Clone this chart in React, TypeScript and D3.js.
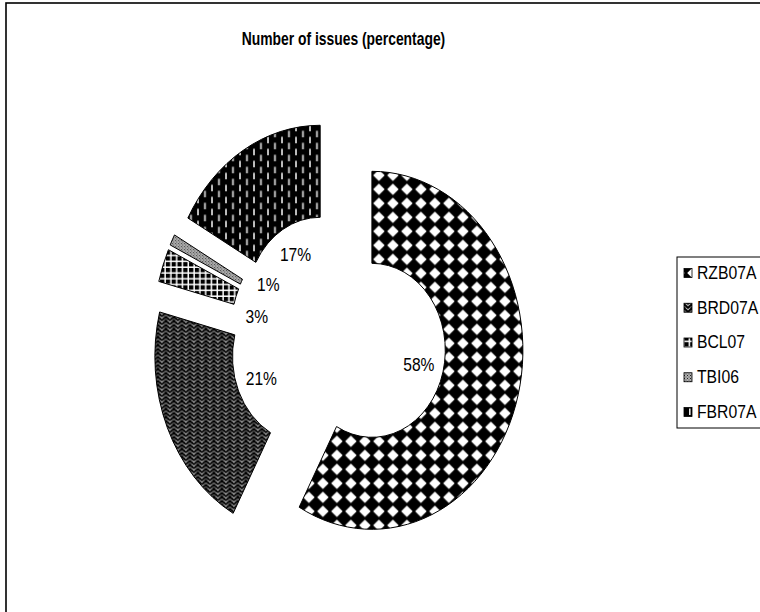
import React from "react";
import * as d3 from "d3";

const categories = ["RZB07A", "BRD07A", "BCL07", "TBI06", "FBR07A"];
const values = [58, 21, 3, 1, 17];
const title = "Number of issues (percentage)";

const W = 760;
const H = 612;
const CX = 338;
const CY = 340;
const SX = 151 / 179; // horizontal squeeze of the picture
const R_OUT = 179;
const R_IN = 87;
const EXPLODE = 41.5;
const LABEL_R = 99;
const MIN_SEP = (20 * Math.PI) / 180;
const FONT = "'Liberation Sans', Arial, sans-serif";

function Patterns({ suffix, comp }: { suffix: string; comp: number }) {
  const pt = comp !== 1 ? `scale(${comp},1)` : undefined;
  return (
    <>
      <pattern id={`p0${suffix}`} patternUnits="userSpaceOnUse" width={14} height={14} patternTransform={pt}>
        <rect width={14} height={14} fill="#000" />
        <polygon points="7,1.2 12.8,7 7,12.8 1.2,7" fill="#fff" />
      </pattern>
      <pattern id={`p1${suffix}`} patternUnits="userSpaceOnUse" width={8} height={8} patternTransform={pt}>
        <rect width={8} height={8} fill="#5e5e5e" />
        <path d="M0,4 L4,0 L8,4 M0,8 L4,4 L8,8" stroke="#000" strokeWidth={1.6} fill="none" />
        <path d="M0,6 L2,4 M6,4 L8,6 M2,0 L0,2 M6,0 L8,2" stroke="#d8d8d8" strokeWidth={0.9} strokeDasharray="1 1" fill="none" />
      </pattern>
      <pattern id={`p2${suffix}`} patternUnits="userSpaceOnUse" width={5.8} height={5.8} patternTransform={pt}>
        <rect width={5.8} height={5.8} fill="#fff" />
        <rect width={4.3} height={4.3} fill="#000" />
      </pattern>
      <pattern id={`p3${suffix}`} patternUnits="userSpaceOnUse" width={3} height={3} patternTransform={pt}>
        <rect width={3} height={3} fill="#b0b0b0" />
        <rect x={0} y={0} width={1} height={1} fill="#222" />
        <rect x={1.5} y={1.5} width={1} height={1} fill="#444" />
      </pattern>
      <pattern id={`p4${suffix}`} patternUnits="userSpaceOnUse" width={14} height={12} patternTransform={pt}>
        <rect width={14} height={12} fill="#000" />
        <rect x={3} y={0.5} width={1.6} height={6.5} fill="#e8e8e8" />
        <rect x={10} y={6.5} width={1.6} height={5.5} fill="#e8e8e8" />
        <rect x={10} y={0} width={1.6} height={1} fill="#e8e8e8" />
      </pattern>
    </>
  );
}

// spread label angles so that close small slices do not collide
function spreadAngles(mids: number[]): number[] {
  const out = mids.slice();
  for (let iter = 0; iter < 50; iter++) {
    let moved = false;
    for (let i = 0; i < out.length - 1; i++) {
      const gap = out[i + 1] - out[i];
      if (gap < MIN_SEP) {
        const push = (MIN_SEP - gap) / 2;
        out[i] -= push;
        out[i + 1] += push;
        moved = true;
      }
    }
    if (!moved) break;
  }
  return out;
}

export default function App() {
  const pie = d3.pie<number>().sort(null).value((d) => d).startAngle(0).endAngle(2 * Math.PI);
  const arcs = pie(values);
  const arc = d3.arc<d3.PieArcDatum<number>>().innerRadius(R_IN).outerRadius(R_OUT);
  const mids = arcs.map((a) => (a.startAngle + a.endAngle) / 2);
  const labelAngles = spreadAngles(mids);

  const legendX = 677;
  const legendTop = 257;
  const legendStep = 34.75;
  const legendFirst = 273;

  return (
    <svg
      width={W}
      height={H}
      style={{ position: "fixed", left: 0, top: 0, background: "#fff" }}
      fontFamily={FONT}
    >
      <defs>
        <Patterns suffix="g" comp={1 / SX} />
        <Patterns suffix="l" comp={1} />
      </defs>
      <rect x={0} y={0} width={W} height={H} fill="#fff" />
      <rect x={6} y={3} width={900} height={800} fill="none" stroke="#000" strokeWidth={1.6} />

      <text
        transform={`translate(343.5,45) scale(0.75,1)`}
        textAnchor="middle"
        fontSize={18.5}
        fontWeight="bold"
        fill="#000"
      >
        {title}
      </text>

      <g transform={`translate(${CX},${CY}) scale(${SX},1)`}>
        {arcs.map((a, i) => {
          const mid = mids[i];
          const dx = EXPLODE * Math.sin(mid);
          const dy = -EXPLODE * Math.cos(mid);
          return (
            <path
              key={categories[i]}
              d={arc(a) || ""}
              transform={`translate(${dx},${dy})`}
              fill={`url(#p${i}g)`}
              stroke="#000"
              strokeWidth={1}
              vectorEffect="non-scaling-stroke"
            />
          );
        })}
        {arcs.map((a, i) => {
          const ang = labelAngles[i];
          return (
            <text
              key={"l" + categories[i]}
              x={LABEL_R * Math.sin(ang)}
              y={-LABEL_R * Math.cos(ang)}
              textAnchor="middle"
              dominantBaseline="central"
              fontSize={18.5}
              fill="#000"
            >
              {values[i]}%
            </text>
          );
        })}
      </g>

      <rect
        x={legendX}
        y={legendTop}
        width={200}
        height={171}
        fill="#fff"
        stroke="#000"
        strokeWidth={1}
      />
      {categories.map((c, i) => {
        const y = legendFirst + i * legendStep;
        return (
          <g key={"lg" + c}>
            <rect x={684} y={y - 4.5} width={8} height={9} fill={`url(#p${i}l)`} stroke="#000" strokeWidth={0.8} />
            <text
              transform={`translate(697,${y}) scale(0.9,1)`}
              dominantBaseline="central"
              fontSize={17.5}
              fill="#000"
            >
              {c}
            </text>
          </g>
        );
      })}
    </svg>
  );
}
